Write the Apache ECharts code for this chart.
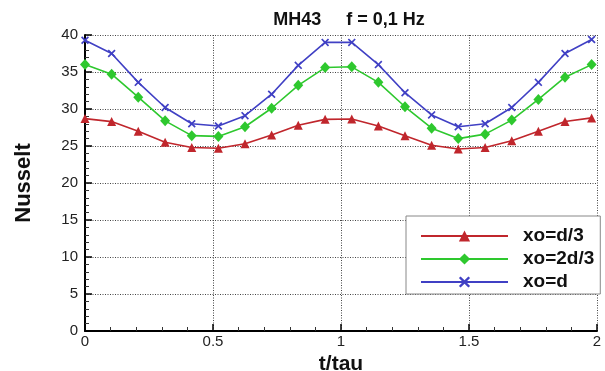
<!DOCTYPE html>
<html>
<head>
<meta charset="utf-8">
<script src="https://cdn.jsdelivr.net/npm/echarts@6/dist/echarts.min.js"></script>
<style>
  html, body { margin: 0; padding: 0; background: #fff; }
  #chart { width: 605px; height: 371px; }
</style>
</head>
<body>
<div id="chart"></div>
<script>
const tValues = [0, 0.104, 0.208, 0.313, 0.417, 0.521, 0.625, 0.729, 0.833, 0.938,
                 1.042, 1.146, 1.25, 1.354, 1.458, 1.563, 1.667, 1.771, 1.875, 1.979];
const nuD3  = [28.7, 28.3, 27.0, 25.5, 24.8, 24.7, 25.3, 26.5, 27.8, 28.6,
               28.65, 27.7, 26.4, 25.1, 24.6, 24.8, 25.7, 27.0, 28.3, 28.8];
const nu2D3 = [36.0, 34.7, 31.6, 28.4, 26.4, 26.3, 27.6, 30.1, 33.2, 35.6,
               35.7, 33.6, 30.3, 27.4, 26.0, 26.6, 28.5, 31.3, 34.3, 36.0];
const nuD   = [39.3, 37.5, 33.6, 30.2, 28.0, 27.7, 29.1, 32.0, 35.9, 39.0,
               39.0, 36.0, 32.2, 29.2, 27.6, 28.0, 30.2, 33.6, 37.5, 39.4];
const seriesNames = ['xo=d/3', 'xo=2d/3', 'xo=d'];
const xTicks = [0, 0.5, 1, 1.5, 2];
const yTicks = [0, 5, 10, 15, 20, 25, 30, 35, 40];

const pair = arr => tValues.map((t, i) => [t, arr[i]]);
const xSym = 'path://M0,1.5L1.5,0L5,3.5L8.5,0L10,1.5L6.5,5L10,8.5L8.5,10L5,6.5L1.5,10L0,8.5L3.5,5Z';
const FONT = 'Liberation Sans, Arial, sans-serif';

const chart = echarts.init(document.getElementById('chart'), null, { renderer: 'canvas' });
chart.setOption({
  animation: false,
  backgroundColor: '#fff',
  title: {
    text: 'MH43     f = 0,1 Hz',
    left: 344, top: 6, textAlign: 'center',
    textStyle: { fontFamily: FONT, fontSize: 18, fontWeight: 'bold', color: '#111' }
  },
  grid: { left: 85, right: 8, top: 35, bottom: 40, outerBoundsMode: 'none' },
  legend: {
    orient: 'vertical',
    left: 406, top: 216,
    padding: [10, 6, 2, 14],
    itemWidth: 87, itemHeight: 14, itemGap: 3,
    backgroundColor: '#fff',
    borderColor: '#888', borderWidth: 1,
    data: seriesNames,
    textStyle: { fontFamily: FONT, fontSize: 19, fontWeight: 'bold', color: '#111', lineHeight: 20, padding: [0, 0, 0, 10] }
  },
  xAxis: {
    type: 'value', min: xTicks[0], max: xTicks[xTicks.length - 1], interval: 0.5,
    name: 't/tau', nameLocation: 'middle', nameGap: 16,
    nameTextStyle: { fontFamily: FONT, fontSize: 21, fontWeight: 'bold', color: '#111' },
    axisLine: { show: true, onZero: false, lineStyle: { color: '#000', width: 2 } },
    axisTick: { show: true, inside: true, length: 7, lineStyle: { color: '#000', width: 1.5 } },
    minorTick: { show: true, splitNumber: 5, length: 4, lineStyle: { color: '#333', width: 1 } },
    axisLabel: { margin: 3, fontFamily: FONT, fontSize: 15, color: '#222' },
    splitLine: { show: true, lineStyle: { color: '#444', width: 1, type: [1, 1.5] } }
  },
  yAxis: {
    type: 'value', min: yTicks[0], max: yTicks[yTicks.length - 1], interval: 5,
    name: 'Nusselt', nameLocation: 'middle', nameGap: 50, nameRotate: 90,
    nameTextStyle: { fontFamily: FONT, fontSize: 22, fontWeight: 'bold', color: '#111' },
    axisLine: { show: true, onZero: false, lineStyle: { color: '#000', width: 2 } },
    axisTick: { show: true, inside: true, length: 7, lineStyle: { color: '#000', width: 1.5 } },
    minorTick: { show: true, splitNumber: 5, length: 4, lineStyle: { color: '#333', width: 1 } },
    axisLabel: { margin: 7, fontFamily: FONT, fontSize: 15, color: '#222' },
    splitLine: { show: true, lineStyle: { color: '#444', width: 1, type: [1, 1.5] } }
  },
  series: [
    { name: seriesNames[0], type: 'line', data: pair(nuD3), symbol: 'triangle', symbolSize: 9,
      color: '#c0262c', lineStyle: { width: 1.6, color: '#c0262c' }, itemStyle: { color: '#c0262c' } },
    { name: seriesNames[1], type: 'line', data: pair(nu2D3), symbol: 'diamond', symbolSize: [10, 11],
      color: '#2ec82e', lineStyle: { width: 1.6, color: '#2ec82e' }, itemStyle: { color: '#2ec82e' } },
    { name: seriesNames[2], type: 'line', data: pair(nuD), symbol: xSym, symbolSize: 8,
      color: '#4040c4', lineStyle: { width: 1.6, color: '#4040c4' }, itemStyle: { color: '#4040c4' } }
  ]
});
</script>
</body>
</html>
